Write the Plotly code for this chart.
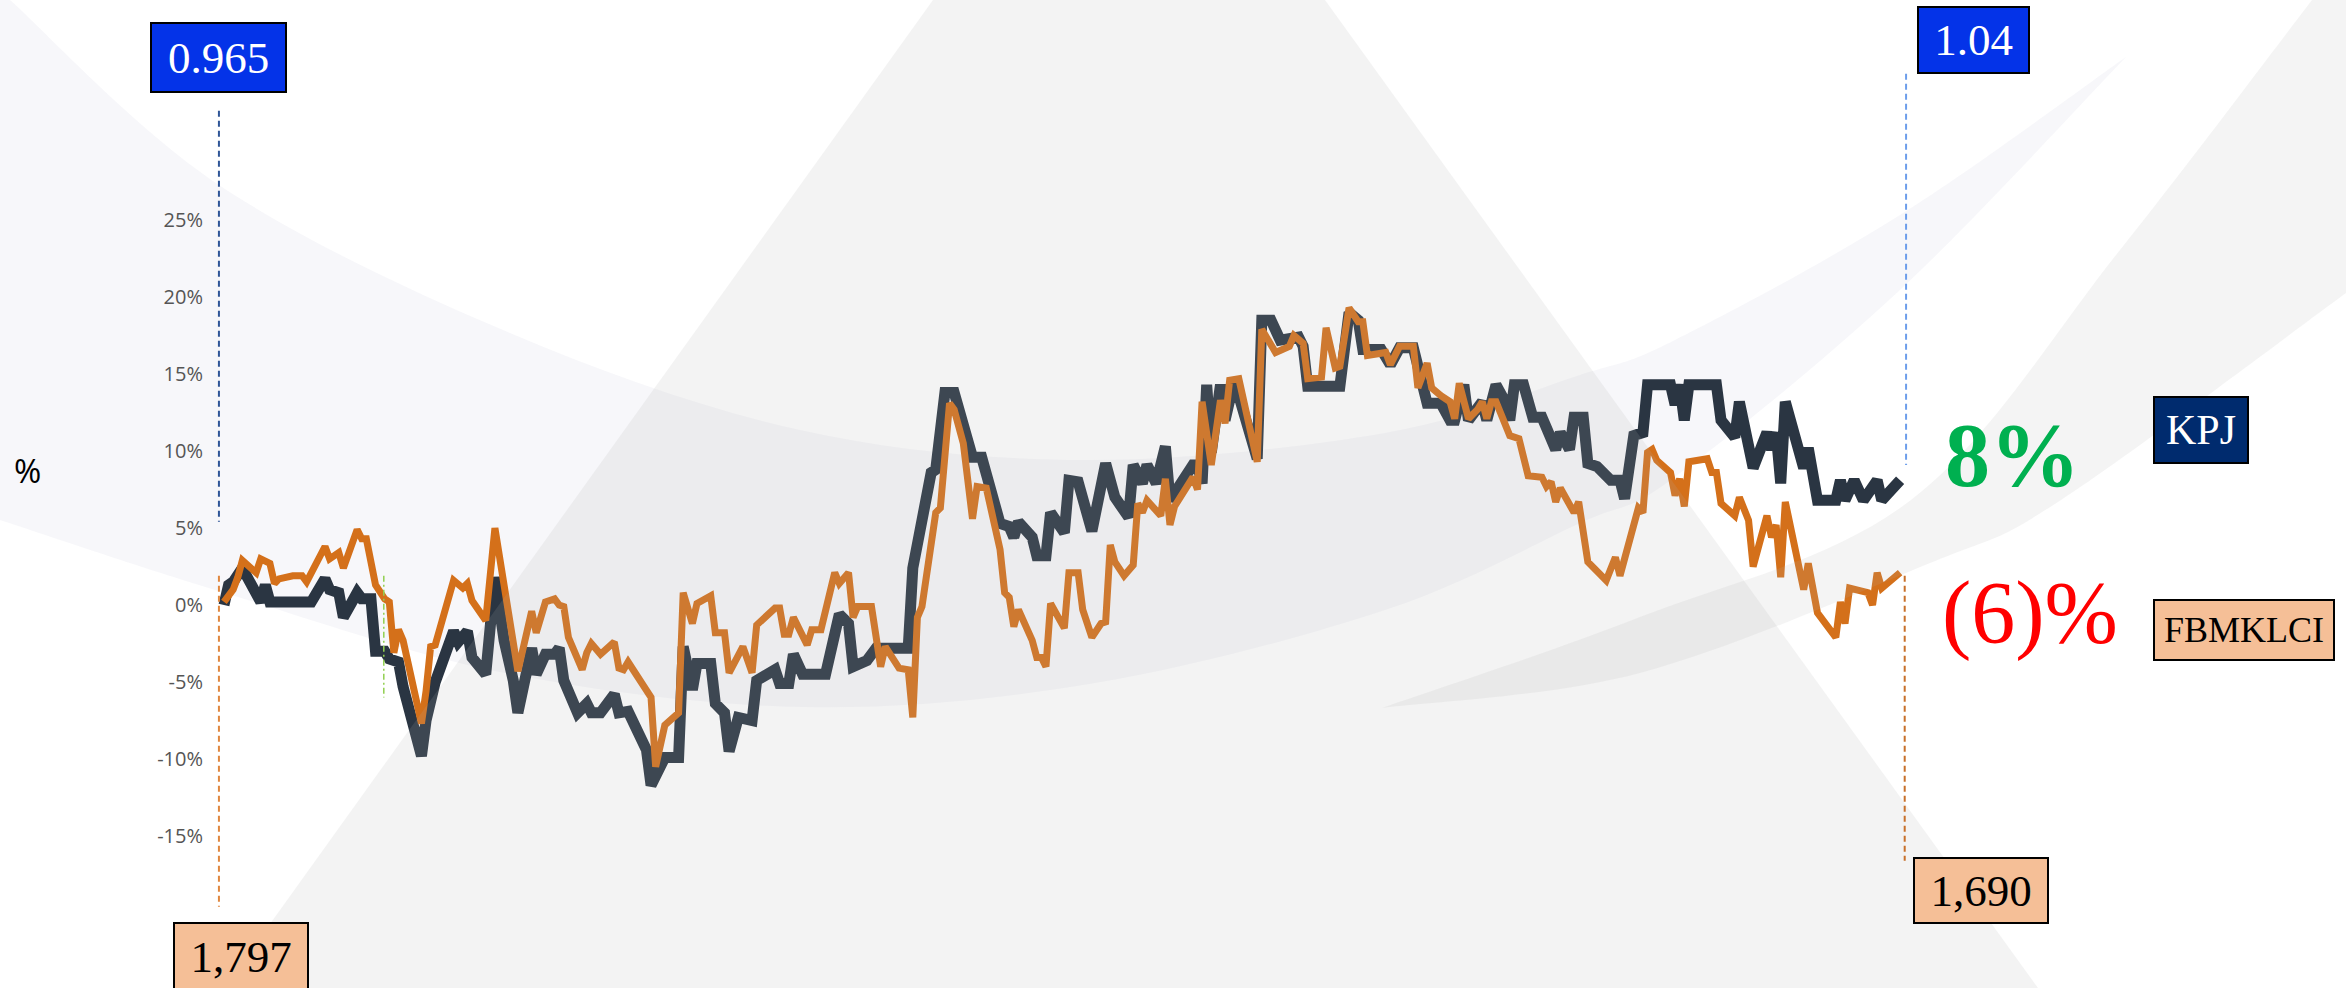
import plotly.graph_objects as go

# ---------------- data ----------------
# x = calendar-day index over the period, y = % change since start
kpj_day = [0, 1, 2, 4, 8, 9, 10, 19, 22, 23, 25, 26, 29, 30, 32, 33, 35, 36, 38, 39,
           43, 44, 46, 50, 51, 53, 54, 57, 59, 61, 63, 64, 67, 68, 70, 72, 73, 74, 77, 79,
           80, 82, 85, 86, 88, 91, 92, 93, 94, 96, 99, 100, 102, 103, 106, 107, 109, 110, 112, 115,
           116, 118, 120, 121, 123, 124, 126, 131, 134, 136, 137, 140, 142, 149, 150, 154, 155, 157, 159, 163,
           165, 169, 171, 172, 173, 176, 177, 179, 180, 183, 184, 186, 189, 192, 194, 197, 198, 200, 201, 203,
           205, 206, 209, 211, 212, 213, 214, 215, 217, 218, 220, 225, 226, 228, 230, 234, 235, 236, 240, 243,
           245, 247, 248, 252, 254, 256, 259, 261, 262, 265, 267, 268, 270, 271, 274, 275, 277, 279, 280, 281,
           283, 285, 287, 290, 291, 293, 294, 296, 297, 299, 302, 304, 305, 307, 309, 310, 315, 316, 317, 318,
           319, 325, 326, 329, 330, 333, 336, 337, 338, 339, 340, 344, 345, 347, 351, 352, 353, 355, 357, 360,
           361, 365]
kpj_pct = [0.0, 1.3, 1.5, 2.4, 0.2, 1.3, 0.2, 0.2, 1.7, 1.0, 0.8, -0.8, 0.8, 0.4, 0.4, -3.0, -3.0, -3.5, -3.7, -5.3,
           -9.8, -7.5, -5.0, -1.7, -2.4, -1.7, -3.4, -4.5, 1.8, -2.3, -4.9, -7.0, -2.8, -4.5, -3.2, -3.2, -2.8, -4.9, -7.0, -6.4,
           -7.0, -7.0, -5.8, -7.0, -6.9, -9.1, -9.4, -11.7, -11.2, -9.9, -9.9, -2.7, -5.5, -3.8, -3.8, -6.4, -7.0, -9.5, -7.3, -7.5,
           -4.9, -4.5, -4.2, -5.1, -5.1, -3.2, -4.5, -4.5, -0.6, -1.2, -4.0, -3.6, -2.8, -2.8, 2.4, 8.6, 8.8, 13.8, 13.8, 9.6,
           9.6, 5.3, 5.1, 4.4, 5.4, 4.4, 3.2, 3.2, 6.0, 4.7, 8.1, 8.0, 4.8, 9.2, 7.0, 5.7, 9.1, 7.9, 9.1, 7.9,
           10.3, 6.8, 8.1, 9.1, 9.1, 7.9, 14.3, 9.9, 14.3, 12.0, 14.6, 9.5, 18.5, 18.5, 17.2, 17.4, 16.8, 14.2, 14.2, 14.2,
           19.0, 18.5, 16.6, 16.6, 15.6, 16.7, 16.7, 14.2, 13.1, 13.1, 12.0, 12.0, 14.3, 12.0, 13.2, 12.0, 14.3, 13.2, 12.0, 14.3,
           14.3, 12.2, 12.2, 10.1, 11.2, 10.1, 12.2, 12.2, 9.2, 9.0, 8.1, 8.1, 6.9, 11.0, 11.2, 14.3, 14.3, 13.0, 14.3, 12.0,
           14.3, 14.3, 12.0, 10.9, 13.2, 8.9, 11.2, 10.1, 11.2, 7.9, 13.2, 8.9, 10.2, 6.8, 6.8, 8.1, 6.8, 8.1, 6.8, 8.1,
           6.8, 8.1]

klci_day = [0, 2, 3, 4, 7, 8, 10, 11, 12, 15, 17, 18, 22, 23, 25, 26, 29, 30, 31, 33,
            35, 36, 37, 38, 39, 43, 44, 45, 46, 50, 52, 53, 54, 57, 59, 61, 64, 67, 68, 70,
            72, 73, 74, 75, 78, 79, 80, 82, 85, 86, 87, 88, 93, 94, 96, 99, 100, 102, 103, 106,
            107, 109, 110, 113, 115, 116, 120, 121, 122, 123, 124, 127, 128, 130, 133, 134, 136, 137, 138, 141,
            143, 144, 147, 149, 150, 151, 152, 155, 156, 158, 159, 161, 163, 164, 166, 169, 170, 171, 172, 173,
            176, 177, 178, 179, 180, 183, 184, 186, 187, 189, 191, 192, 193, 194, 196, 198, 199, 200, 201, 204,
            205, 206, 207, 211, 212, 213, 215, 217, 218, 219, 221, 225, 226, 229, 232, 233, 235, 236, 239, 240,
            242, 243, 245, 247, 248, 249, 253, 254, 256, 259, 260, 262, 263, 265, 267, 268, 269, 271, 273, 274,
            275, 276, 277, 280, 282, 284, 287, 288, 289, 290, 291, 294, 295, 297, 301, 303, 304, 308, 309, 310,
            311, 312, 315, 316, 317, 318, 319, 323, 324, 325, 326, 329, 330, 332, 333, 336, 337, 338, 339, 340,
            344, 345, 347, 351, 352, 353, 354, 358, 359, 360, 361, 365]
klci_pct = [0.2, 1.0, 1.8, 2.9, 2.1, 3.0, 2.7, 1.4, 1.7, 1.9, 1.9, 1.5, 3.8, 3.0, 3.4, 2.4, 4.9, 4.3, 4.3, 1.3,
            0.4, 0.2, -3.1, -1.6, -2.3, -7.7, -5.6, -2.7, -2.6, 1.6, 1.1, 1.4, 0.3, -1.0, 5.0, 1.0, -4.3, -0.4, -1.8, 0.2,
            0.4, 0.0, -0.1, -2.1, -4.2, -3.1, -2.5, -3.2, -2.4, -4.1, -4.2, -3.7, -6.0, -10.5, -7.8, -7.0, 0.8, -1.2, 0.1, 0.6,
            -1.8, -1.8, -4.4, -2.7, -4.4, -1.3, -0.2, -0.2, -1.9, -1.9, -0.8, -2.6, -1.6, -1.6, 2.1, 1.4, 2.1, -0.8, -0.1, -0.1,
            -4.0, -2.7, -4.1, -4.2, -7.3, -0.8, -0.1, 6.0, 6.3, 13.1, 12.7, 10.5, 5.6, 7.7, 7.6, 3.6, 0.8, 0.5, -1.4, -0.3,
            -2.3, -3.4, -3.4, -4.0, 0.1, -1.5, 2.1, 2.1, -0.3, -2.1, -1.2, -1.1, 3.9, 2.8, 1.9, 2.6, 6.6, 6.0, 6.8, 5.8,
            8.2, 5.2, 6.4, 8.3, 7.5, 13.2, 9.1, 13.3, 11.8, 14.6, 14.7, 9.3, 17.9, 16.4, 16.8, 17.5, 17.0, 14.7, 14.8, 18.0,
            15.4, 15.5, 19.3, 18.4, 18.4, 16.2, 16.4, 15.6, 16.8, 16.8, 14.1, 15.7, 14.1, 13.6, 13.2, 12.1, 14.4, 12.1, 12.7, 13.2,
            12.1, 13.2, 13.2, 11.0, 10.8, 8.4, 8.3, 7.7, 8.0, 6.7, 7.6, 6.0, 6.7, 2.8, 1.6, 3.1, 1.9, 6.3, 6.0, 9.9,
            10.1, 9.4, 8.6, 7.1, 8.2, 6.4, 9.3, 9.5, 8.6, 8.6, 6.6, 5.8, 7.0, 5.5, 2.5, 5.8, 4.4, 5.2, 1.8, 6.7,
            1.0, 2.7, -0.5, -2.1, 0.2, -1.2, 1.1, 0.8, 0.0, 2.1, 1.1, 2.1]

y_tick_vals = [-15, -10, -5, 0, 5, 10, 15, 20, 25]
y_tick_text = ["-15%", "-10%", "-5%", "0%", "5%", "10%", "15%", "20%", "25%"]

kpj_start_price = "0.965"
kpj_end_price = "1.04"
klci_start_level = "1,797"
klci_end_level = "1,690"
kpj_change = "8%"
klci_change = "(6)%"

# ---------------- layout helpers ----------------
W, H = 2346, 988
ML = 208


def px(x):
    return (x - ML) / (W - ML)


def py(y):
    return 1 - y / H


def pt(p):
    return f"{px(p[0]):.5f},{py(p[1]):.5f}"


def catmull(points):
    segs = []
    n = len(points)
    for i in range(n - 1):
        p0 = points[i - 1] if i > 0 else points[i]
        p1 = points[i]
        p2 = points[i + 1]
        p3 = points[i + 2] if i + 2 < n else p2
        c1 = (p1[0] + (p2[0] - p0[0]) / 6, p1[1] + (p2[1] - p0[1]) / 6)
        c2 = (p2[0] - (p3[0] - p1[0]) / 6, p2[1] - (p3[1] - p1[1]) / 6)
        segs.append(f"C {pt(c1)} {pt(c2)} {pt(p2)}")
    return " ".join(segs)


fig = go.Figure()
fig.add_trace(go.Scatter(x=kpj_day, y=kpj_pct, mode="lines", name="KPJ",
                         line=dict(color="#2a3542", width=11), hoverinfo="skip"))
fig.add_trace(go.Scatter(x=klci_day, y=klci_pct, mode="lines", name="FBMKLCI",
                         line=dict(color="#d4701a", width=7), hoverinfo="skip"))

shapes = []
# decorative crescent (upper-left sweeping arc) - behind the lines
U = [(10, 0), (219, 185), (510, 333), (800, 430), (1086, 460), (1385, 433),
     (1580, 375), (1675, 340), (1900, 215), (2126, 57)]
Lc = [(2126, 57), (1900, 290), (1675, 477), (1580, 523), (1385, 610), (1095, 683),
      (805, 707), (505, 673), (225, 593), (0, 520)]
path_a = f"M {pt(U[0])} " + catmull(U) + " " + catmull(Lc) + f" L {pt((0, 0))} Z"
shapes.append(dict(type="path", path=path_a, xref="paper", yref="paper", layer="below",
                   fillcolor="rgba(215,215,232,0.2)", line=dict(width=0)))
# decorative trapezoid (translucent, over the lines)
trap = [(933, 0), (1325, 0), (2038, 988), (224, 988)]
path_t = "M " + " L ".join(pt(p) for p in trap) + " Z"
shapes.append(dict(type="path", path=path_t, xref="paper", yref="paper", layer="above",
                   fillcolor="rgba(175,175,175,0.15)", line=dict(width=0)))
# decorative lower-right swoosh
Bu = [(1382, 708), (1640, 617), (1911, 500), (2120, 250), (2312, 0)]
Bl = [(2346, 293), (2061, 500), (1930, 563), (1640, 673), (1382, 708)]
path_b = f"M {pt(Bu[0])} " + catmull(Bu) + f" L {pt((2346, 0))} L {pt(Bl[0])} " + catmull(Bl) + " Z"
shapes.append(dict(type="path", path=path_b, xref="paper", yref="paper", layer="above",
                   fillcolor="rgba(175,175,175,0.14)", line=dict(width=0)))

# dashed marker lines
def vline(x, y0, y1, color, dash, width=2):
    return dict(type="line", xref="x", yref="y", x0=x, x1=x, y0=y0, y1=y1, layer="above",
                line=dict(color=color, width=width, dash=dash))

shapes.append(vline(-1.1, 32.1, 5.4, "#2f5597", "6px,4px"))
shapes.append(vline(-1.1, 1.9, -19.6, "#e0873f", "6px,4px"))
shapes.append(vline(34.8, 1.9, -6.0, "#92d050", "6px,3px,2px,3px", 1.5))
shapes.append(vline(366.3, 34.5, 9.1, "#6d9eeb", "6px,4px"))
shapes.append(vline(366.0, 1.9, -16.6, "#c8702a", "6px,4px"))

SERIF = "Liberation Serif"


def box(text, cx, cy, w, h, bg, fg, size):
    return dict(text=text, x=px(cx), y=py(cy), xref="paper", yref="paper",
                xanchor="center", yanchor="middle", showarrow=False,
                width=w - 4, height=h - 4, bgcolor=bg, bordercolor="black", borderwidth=2,
                borderpad=0, align="center", valign="middle",
                font=dict(family=SERIF, size=size, color=fg))


annotations = [
    box(kpj_start_price, 218.5, 57.5, 137, 71, "#0433e8", "white", 45),
    box(kpj_end_price, 1973.5, 40, 113, 68, "#0433e8", "white", 45),
    box("KPJ", 2201, 430, 96, 68, "#002b6e", "white", 42),
    box("FBMKLCI", 2244, 630, 182, 62, "#f5bf97", "black", 36),
    box(klci_end_level, 1981, 890.5, 136, 67, "#f5bf97", "black", 45),
    box(klci_start_level, 241, 957, 136, 70, "#f5bf97", "black", 45),
    dict(text=f"<b>{kpj_change}</b>", x=px(2012), y=py(455), xref="paper", yref="paper",
         xanchor="center", yanchor="middle", showarrow=False,
         font=dict(family=SERIF, size=90, color="#00b050")),
    dict(text=klci_change, x=px(2030), y=py(612), xref="paper", yref="paper",
         xanchor="center", yanchor="middle", showarrow=False,
         font=dict(family=SERIF, size=88, color="#ff0000")),
    dict(text="%", x=px(27), y=py(470), xref="paper", yref="paper",
         xanchor="center", yanchor="middle", showarrow=False,
         font=dict(family="Open Sans", size=33, color="black")),
]

fig.update_layout(
    width=W, height=H,
    margin=dict(l=ML, r=0, t=0, b=0, pad=0),
    paper_bgcolor="white", plot_bgcolor="white",
    showlegend=False,
    xaxis=dict(range=[-3.48, 462.1], visible=False, fixedrange=True),
    yaxis=dict(range=[-24.87, 39.29], tickvals=y_tick_vals, ticktext=y_tick_text,
               showgrid=False, zeroline=False, showline=False, ticks="",
               ticklabelstandoff=4,
               tickfont=dict(family="Open Sans", size=20, color="#555555"), fixedrange=True),
    shapes=shapes,
    annotations=annotations,
)

fig.write_html("out.html")
